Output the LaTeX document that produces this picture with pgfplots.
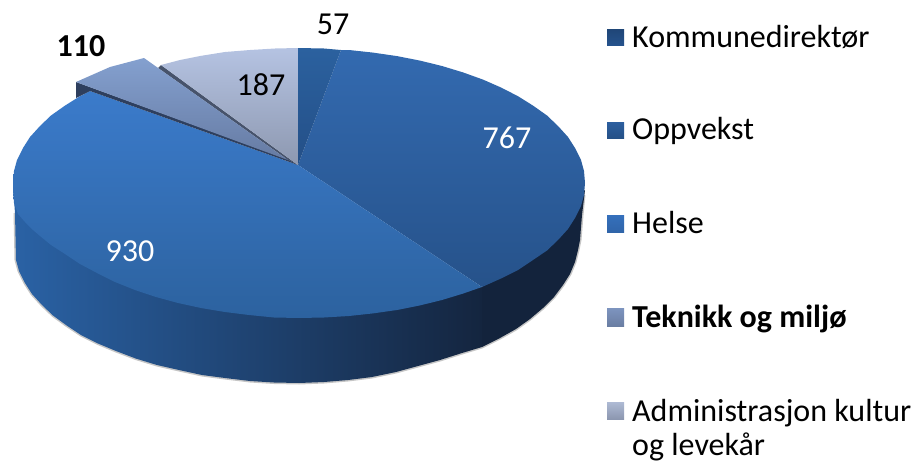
\documentclass[border=0pt]{standalone}
\usepackage{fontspec}
\setmainfont{Carlito}
\usepackage{pgfplots}
\usepackage{pgfplotstable}
\pgfplotsset{compat=1.18}

% outline points are pixel positions (y counts downwards)
\pgfplotstableread{
x y
15 213
16 260
19 271
25 283
32 294
42 305
53 315.5
66 325
81 335
98 343.5
116 351
136 358.6
157 365
179 370
202 375
225 378
250 381
274 382.5
299 383
324 382
348 380
372 377
396 372
418 366
440 360
462 353
482 347
500 338
516 329
530 319
543 308
554 297
563 285
570 274
575 262
578 250
580 240
582 215
584 195
}\sideedge

\definecolor{legA}{HTML}{25528C}
\definecolor{legB}{HTML}{2C5F9F}
\definecolor{legC}{HTML}{3570BC}
\definecolor{legD}{HTML}{7D94BF}
\definecolor{legE}{HTML}{A5B2CF}
\definecolor{rimL}{HTML}{2A62A5}
\definecolor{rimM}{HTML}{1A3560}
\definecolor{rimN}{HTML}{14253F}
\definecolor{rimR}{HTML}{13233C}
\definecolor{opT}{HTML}{336AB0}
\definecolor{opB}{HTML}{26528A}
\definecolor{koT}{HTML}{2B619F}
\definecolor{koB}{HTML}{244F87}
\definecolor{heT}{HTML}{3B7BCB}
\definecolor{heB}{HTML}{2C629F}
\definecolor{cutA}{HTML}{2E3F5E}
\definecolor{cutB}{HTML}{47536B}
\definecolor{teT}{HTML}{84A0CF}
\definecolor{teB}{HTML}{667BA3}
\definecolor{adT}{HTML}{B5C3E2}
\definecolor{adB}{HTML}{8D98B0}

\begin{document}
\begin{tikzpicture}
\useasboundingbox (0pt,0pt) rectangle (916pt,463pt);
\begin{axis}[
  at={(0pt,0pt)}, anchor=south west,
  width=916pt, height=463pt, scale only axis,
  xmin=0, xmax=916, ymin=0, ymax=463, y dir=reverse,
  hide axis]

% shadow under the rim
\addplot[color=gray!45, line width=3pt] table {\sideedge};

% rim, Helse part
\addplot[draw=none, left color=rimL, middle color=rimM, right color=rimN] coordinates {
(13,187)(15,213)(16,260)(19,271)(25,283)(32,294)(42,305)(53,315.5)(66,325)(81,335)(98,343.5)
(116,351)(136,358.6)(157,365)(179,370)(202,375)(225,378)(250,381)(274,382.5)(299,383)(324,382)
(348,380)(372,377)(396,372)(418,366)(440,360)(462,353)(482,347)(482,287)};
% rim, Oppvekst part
\addplot[draw=none, fill=rimR] coordinates {
(482,287)(482,347)(500,338)(516,329)(530,319)(543,308)(554,297)(563,285)(570,274)(575,262)
(578,250)(580,240)(582,215)(585,190)};

% Oppvekst
\addplot[draw=none, top color=opT, bottom color=opB] coordinates {
(298,165)(341,50)(349,50)(373,52.6)(397,56.1)(420,60.6)(442,66)(463,72.4)(483,79.6)(501,87.5)
(518,96.2)(533,105.6)(547,115.5)(558,126)(568,137)(575,148)(581,160)(584,171)(585,183)(584,195)
(581,206)(575,218)(568,229)(558,240)(547,250.5)(533,260)(518,270)(501,278.5)(482,287)};
% Kommunedirektor
\addplot[draw=none, top color=koT, bottom color=koB] coordinates {
(298,165)(298,48)(324,48.5)(341,50)};
% Helse
\addplot[draw=none, top color=heT, bottom color=heB] coordinates {
(298,165)(482,287)(463,293.6)(442,300)(420,305.4)(397,310)(373,313.4)(349,316)(324,317.5)(299,318)
(274,317.5)(249,315)(225,312)(201,308)(178,303)(156,297)(135,290)(115,282)(97,273)(80,264)
(65,254)(51,245)(40,236)(33,230)(25,222)(18,214)(14,203)(13,190)(13,183)(14,171)(17,160)(23,148)(30,137)
(40,126)(51,115.5)(65,105.6)(80,96.2)(90,91)};

% dark cut faces of the pulled-out slices
\addplot[draw=none, fill=cutA] coordinates {(76,82)(76,98)(90,91)(298,165)(285,158)};
\addplot[draw=none, fill=cutB] coordinates {(161,65)(158,68)(288,160)(298,165)};

% Teknikk og miljo
\addplot[draw=none, top color=teT, bottom color=teB] coordinates {
(76,82)(110,67)(144,58)(288,160)};
% Administrasjon kultur og levekar
\addplot[draw=none, top color=adT, bottom color=adB] coordinates {
(298,165)(161,65)(180,60)(200,56)(225,52)(250,50)(275,48.5)(298,48)};

% legend keys
\addplot[draw=none, top color=legA!85!black, bottom color=legA] coordinates {(607,29)(624,29)(624,45)(607,45)};
\addplot[draw=none, top color=legB, bottom color=legB!85!black] coordinates {(607,122)(624,122)(624,138)(607,138)};
\addplot[draw=none, top color=legC, bottom color=legC!90!black] coordinates {(607,215)(624,215)(624,232)(607,232)};
\addplot[draw=none, top color=legD, bottom color=legD!85!black] coordinates {(607,308)(624,308)(624,326)(607,326)};
\addplot[draw=none, top color=legE!90!white, bottom color=legE!85!black] coordinates {(607,402)(624,402)(624,419)(607,419)};

% value labels
\node[font=\fontsize{32}{38}\selectfont] at (333,24) {57};
\node[font=\fontsize{32}{38}\selectfont\bfseries] at (81,46) {110};
\node[font=\fontsize{32}{38}\selectfont] at (261,85) {187};
\node[font=\fontsize{32}{38}\selectfont, white] at (507,138) {767};
\node[font=\fontsize{32}{38}\selectfont, white] at (130,251) {930};

% legend text
\node[anchor=base west, inner sep=0pt, font=\fontsize{32}{38}\selectfont] at (632,47) {Kommunedirektør};
\node[anchor=base west, inner sep=0pt, font=\fontsize{32}{38}\selectfont] at (632,139) {Oppvekst};
\node[anchor=base west, inner sep=0pt, font=\fontsize{32}{38}\selectfont] at (632,233) {Helse};
\node[anchor=base west, inner sep=0pt, font=\fontsize{32}{38}\selectfont\bfseries] at (632,327) {Teknikk og miljø};
\node[anchor=base west, inner sep=0pt, font=\fontsize{32}{38}\selectfont] at (632,421) {Administrasjon kultur};
\node[anchor=base west, inner sep=0pt, font=\fontsize{32}{38}\selectfont] at (632,455) {og levekår};
\end{axis}
\end{tikzpicture}
\end{document}
